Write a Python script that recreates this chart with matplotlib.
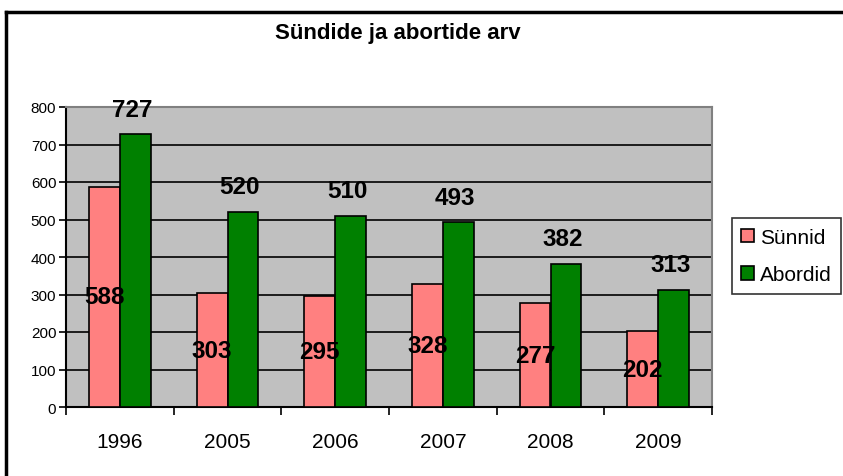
import matplotlib
matplotlib.use("Agg")
import matplotlib.pyplot as plt
import numpy as np
from matplotlib.lines import Line2D

plt.rcParams['font.family'] = ['Liberation Sans', 'DejaVu Sans']

years = ["1996", "2005", "2006", "2007", "2008", "2009"]
synnid = [588, 303, 295, 328, 277, 202]
abordid = [727, 520, 510, 493, 382, 313]
series_names = ["Sünnid", "Abordid"]
title = "Sündide ja abortide arv"

W, H = 843, 477
fig = plt.figure(figsize=(W / 100, H / 100), dpi=100)
fig.patch.set_facecolor("white")

L, R, T, B = 66, 712, 108, 408
ax = fig.add_axes([L / W, 1 - B / H, (R - L) / W, (B - T) / H])
ax.set_facecolor("#c0c0c0")

x = np.arange(len(years)) + 0.5
bw = 1 / 3.5
ax.bar(x - bw / 2, synnid, width=bw, color="#ff8080", edgecolor="black", linewidth=1.2, zorder=3, label=series_names[0])
ax.bar(x + bw / 2, abordid, width=bw, color="#008000", edgecolor="black", linewidth=1.2, zorder=3, label=series_names[1])

for xi, v in zip(x, synnid):
    ax.text(xi - bw / 2, v / 2, str(v), ha="center", va="center", fontsize=17.5, fontweight="bold", zorder=5)
for xi, v in zip(x, abordid):
    ax.text(xi + bw / 2 - 0.03, v + 36, str(v), ha="center", va="bottom", fontsize=17.5, fontweight="bold", zorder=5, clip_on=False)

ax.set_xlim(0, len(years))
ax.set_ylim(0, 800)
ax.set_yticks(range(0, 801, 100))
ax.yaxis.grid(True, color="black", linewidth=1.2, zorder=1)
ax.set_axisbelow(True)
ax.tick_params(axis="y", direction="out", length=5, width=1.2, labelsize=11, pad=2)

ax.set_xticks(np.arange(len(years) + 1))
ax.set_xticklabels([])
ax.set_xticks(x, minor=True)
ax.set_xticklabels(years, minor=True, fontsize=15)
ax.tick_params(axis="x", which="major", direction="out", length=6, width=1.2)
ax.tick_params(axis="x", which="minor", length=0, pad=18)

for s in ["left", "bottom"]:
    ax.spines[s].set_color("black")
    ax.spines[s].set_linewidth(1.5)
for s in ["top", "right"]:
    ax.spines[s].set_color("#808080")
    ax.spines[s].set_linewidth(1.5)

leg = fig.legend(loc="center left", bbox_to_anchor=(732 / W, 1 - 257 / H), fontsize=15,
                 frameon=True, fancybox=False, edgecolor="black", handlelength=0.6,
                 handleheight=0.6, handletextpad=0.3, borderpad=0.45, labelspacing=0.9,
                 borderaxespad=0)
leg.get_frame().set_linewidth(1.2)
for h in leg.legend_handles:
    h.set_linewidth(1.2)

fig.text(398 / W, 1 - 33 / H, title, ha="center", va="center", fontsize=16, fontweight="bold")

# outer chart border (top and left visible)
fig.add_artist(Line2D([6 / W, 1.0], [1 - 12.5 / H, 1 - 12.5 / H], color="black", linewidth=2.5, transform=fig.transFigure))
fig.add_artist(Line2D([6 / W, 6 / W], [0, 1 - 12.5 / H], color="black", linewidth=2.5, transform=fig.transFigure))

fig.savefig("out.png", dpi=100)
